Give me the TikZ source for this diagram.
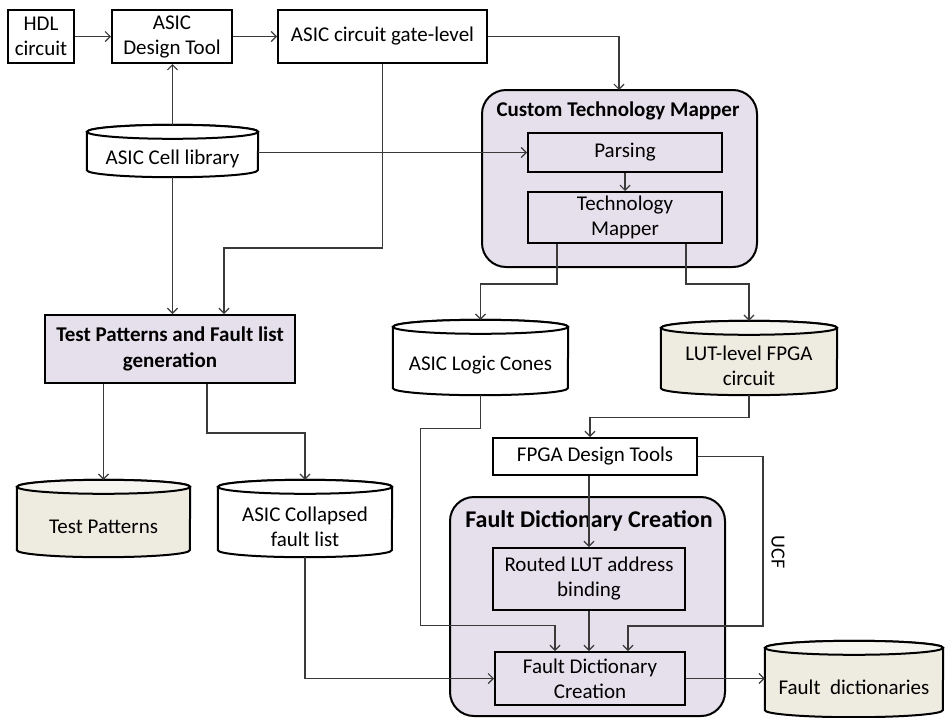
\documentclass[tikz,border=0pt]{standalone}
\usepackage{fontspec}
\setmainfont{Carlito}
\usetikzlibrary{arrows.meta,calc}

\definecolor{lav}{HTML}{E6E0EC}
\definecolor{beige}{HTML}{EEECE1}
\definecolor{beigetop}{HTML}{F6F5F0}
\definecolor{wire}{HTML}{3A3A3A}

\tikzset{
  box/.style={draw=black, line width=2pt, fill=white, align=center,
    inner sep=0pt, font=\fontsize{21}{25}\selectfont},
  groupbox/.style={draw=black, line width=2pt, fill=lav, rounded corners=24pt},
  grouptitle/.style={font=\bfseries\fontsize{21}{25}\selectfont},
  arr/.style={draw=wire, line width=1.3pt,
    -{Straight Barb[length=5pt,width=10pt,line width=1.2pt]}},
  cyltext/.style={align=center, font=\fontsize{21}{25}\selectfont, inner sep=0pt},
}

% database cylinder: name, centre x, centre y, width, height, body fill, top fill, text
\newcommand\dbcyl[8]{%
  \node[minimum width=#4pt, minimum height=#5pt, inner sep=0pt] (#1) at (#2,#3) {};
  \draw[line width=2pt, fill=#6]
    ([yshift=-7pt]#1.north west) -- ([yshift=7pt]#1.south west)
    arc[start angle=180, end angle=360, x radius=#4pt/2, y radius=7pt]
    -- ([yshift=-7pt]#1.north east)
    arc[start angle=0, end angle=180, x radius=#4pt/2, y radius=7pt] -- cycle;
  \draw[line width=2pt, fill=#7] ([yshift=-7pt]#1.north)
    ellipse[x radius=#4pt/2, y radius=7pt];
  \node[cyltext] (#1-t) at ([yshift=-8pt]#1.center) {#8};
}

\begin{document}
\begin{tikzpicture}[x=1pt, y=-1pt]
\useasboundingbox (0,0) rectangle (946,718);

% group containers
\draw[groupbox] (482,90) rectangle (757,267);
\node[grouptitle] (ctm-title) at (618,111) {Custom Technology Mapper};
\coordinate (ctm) at (619,90);
\draw[groupbox] (450,497) rectangle (725,716);
\node[grouptitle, font=\bfseries\fontsize{24}{28}\selectfont] (fdc-title) at (589,521) {Fault Dictionary Creation};

% process boxes
\node[box, minimum width=66pt, minimum height=53pt] (hdl) at (41,36.5) {HDL\\circuit};
\node[box, minimum width=120pt, minimum height=53pt] (adt) at (172,36.5) {ASIC\\Design Tool};
\node[box, minimum width=209pt, minimum height=53pt] (gate) at (382.5,36.5) {ASIC circuit gate-level};
\node[box, fill=lav, minimum width=194pt, minimum height=39pt] (parse) at (625,152.5) {Parsing};
\node[box, fill=lav, minimum width=194pt, minimum height=51pt] (tmap) at (625,217.5) {Technology\\Mapper};
\node[box, fill=lav, minimum width=250pt, minimum height=68pt,
      font=\bfseries\fontsize{21}{26}\selectfont] (test) at (170,349) {Test Patterns and Fault list\\generation};
\node[box, minimum width=204pt, minimum height=37pt] (fpga) at (595,456.5) {FPGA Design Tools};
\node[box, fill=lav, minimum width=192pt, minimum height=62pt] (routed) at (589,579) {Routed LUT address\\binding};
\node[box, fill=lav, minimum width=190pt, minimum height=53pt] (fdcin) at (590,678.5) {Fault Dictionary\\Creation};

% data stores
\dbcyl{cell}{172.5}{151}{171}{52}{white}{white}{ASIC Cell library}
\dbcyl{tp}{103.5}{518.5}{173}{77}{beige}{beigetop}{Test Patterns}
\dbcyl{col}{305}{518.5}{174}{77}{white}{white}{ASIC Collapsed\\fault list}
\dbcyl{cones}{480.5}{357.5}{175}{75}{white}{white}{ASIC Logic Cones}
\dbcyl{lut}{749}{358}{176}{74}{beige}{beigetop}{LUT-level FPGA\\circuit}
\dbcyl{dict}{854}{679}{178}{76}{beige}{beigetop}{Fault\ \ dictionaries}

% connectors
\draw[arr] (hdl.east) -- (adt.west);
\draw[arr] (adt.east) -- (gate.west);
\draw[arr] (gate.east) -| (ctm);
\draw[arr] (cell.north) -- (cell.north |- adt.south);
\draw[arr] (cell.east |- parse.west) -- (parse.west);
\draw[arr] (parse.south) -- (tmap.north);
\draw[arr] ([xshift=30pt]tmap.south west) -- ++(0,40) -| (cones.north);
\draw[arr] ([xshift=-37pt]tmap.south east) -- ++(0,40) -| (lut.north);
\draw[arr] (cell.south) -- (cell.south |- test.north);
\draw[arr] (gate.south) -- ++(0,184) -| ([xshift=54pt]test.north);
\draw[arr] (tp.north |- test.south) -- (tp.north);
\draw[arr] ([xshift=163pt]test.south west) -- ++(0,49) -| (col.north);
\draw[arr] (cones.south) -- ++(0,33) -- ++(-60,0) -- ++(0,197) -| ([xshift=-35pt]fdcin.north);
\draw[arr] (lut.south) -- ++(0,22) -| ([xshift=-5pt]fpga.north);
\draw[arr] (routed.north |- fpga.south) -- (routed.north);
\draw[arr] (fpga.east) -- ++(65,0) -- ++(0,169.5) -| ([xshift=38pt]fdcin.north);
\node[rotate=-90, font=\fontsize{20}{22}\selectfont] (ucf) at (778,552) {UCF};
\draw[arr] (routed.south) -- (routed.south |- fdcin.north);
\draw[arr] (col.south) |- (fdcin.west);
\draw[arr] (fdcin.east) -- (dict.west |- fdcin.east);
\end{tikzpicture}
\end{document}
